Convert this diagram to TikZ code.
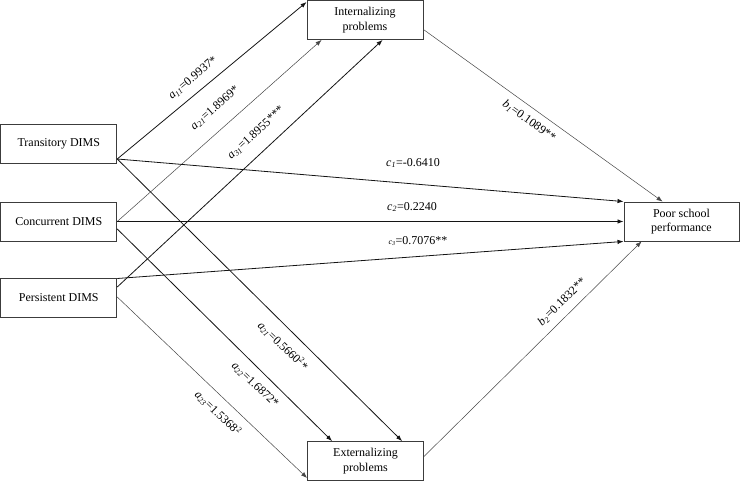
\documentclass[tikz,border=0pt]{standalone}
\usepackage{fontspec}
\setmainfont{Liberation Serif}
\usetikzlibrary{arrows.meta,positioning}
\definecolor{boxLine}{RGB}{60,60,60}
\definecolor{pathDark}{RGB}{20,20,20}
\definecolor{pathLight}{RGB}{70,70,70}
\newcommand{\coefname}[2]{\textit{#1}\textsubscript{\textit{#2}}}

\begin{document}
\begin{tikzpicture}[x=1pt, y=1pt,
    var/.style={rectangle, draw=boxLine, line width=0.9pt, align=center,
                minimum width=116pt, minimum height=39pt, inner sep=1pt,
                font=\fontsize{12}{14.5}\selectfont},
    arr/.style={-{Latex[length=6pt,width=4.5pt]}, pathDark, line width=0.8pt},
    thinarr/.style={-{Latex[length=6pt,width=4.5pt]}, pathLight, line width=0.5pt},
    coef/.style={font=\fontsize{12}{14}\selectfont, inner sep=1pt}
  ]
  \useasboundingbox (0,0) rectangle (740,-481);

  % exposures
  \node[var] (trans) at (58.8,-143.5) {Transitory DIMS};
  \node[var] (conc)  at (58.8,-221.5) {Concurrent DIMS};
  \node[var] (pers)  at (58.8,-298)   {Persistent DIMS};
  % mediators and outcome
  \node[var] (intern) at (365,-20)  {Internalizing\\problems};
  \node[var] (extern) at (365.5,-461) {Externalizing\\problems};
  \node[var, minimum width=115pt] (poor) at (681.5,-221.5) {Poor school\\performance};

  % a paths
  \draw[arr]     ([yshift=-15.5pt]trans.east) -- ([yshift=-2pt]intern.north west);
  \draw[thinarr] (conc.east) -- ([xshift=15pt]intern.south west);
  \draw[arr]     ([yshift=11pt]pers.east) -- ([xshift=76pt]intern.south west);
  \draw[arr]     ([yshift=-15.5pt]trans.east) -- ([xshift=95pt]extern.north west);
  \draw[arr]     ([yshift=-7.5pt]conc.east) -- ([xshift=25pt]extern.north west);
  \draw[thinarr] ([yshift=1pt]pers.east) -- ([yshift=3pt]extern.south west);
  % b paths
  \draw[thinarr] ([yshift=-9.5pt]intern.east) -- ([xshift=39pt]poor.north west);
  \draw[thinarr] ([yshift=4.5pt]extern.east) -- ([xshift=18pt]poor.south west);
  % c paths
  \draw[arr] ([yshift=-15.5pt]trans.east) -- (poor.north west);
  \draw[arr] (conc.east) -- (poor.west);
  \draw[arr] ([yshift=19.5pt]pers.east) -- (poor.south west);

  % coefficients
  \node[coef, rotate=39.9] (la11) at (193,-78)  {\coefname{a}{11}=0.9937*};
  \node[coef, rotate=41.4] (la21) at (215,-108) {\coefname{a}{21}=1.8969*};
  \node[coef, rotate=42.6] (la31) at (256,-133) {\coefname{a}{31}=1.8955***};
  \node[coef, rotate=-44.2] (la12) at (283,-346) {\coefname{a}{21}=0.5660\textsuperscript{2}*};
  \node[coef, rotate=-44] (la22) at (255,-385) {\coefname{a}{22}=1.6872*};
  \node[coef, rotate=-44.2] (la23) at (218,-413) {\coefname{a}{23}=1.5368\textsuperscript{2}};
  \node[coef, rotate=-35.6] (lb1) at (529,-121) {\coefname{b}{1}=0.1089**};
  \node[coef, rotate=44.3] (lb2) at (562,-302) {\coefname{b}{2}=0.1832**};
  \node[coef] (lc1) at (413,-163) {\coefname{c}{1}=-0.6410};
  \node[coef] (lc2) at (412,-207) {\coefname{c}{2}=0.2240};
  \node[coef] (lc3) at (418,-241) {{\fontsize{8}{9}\selectfont\coefname{c}{3}}=0.7076**};
\end{tikzpicture}
\end{document}
